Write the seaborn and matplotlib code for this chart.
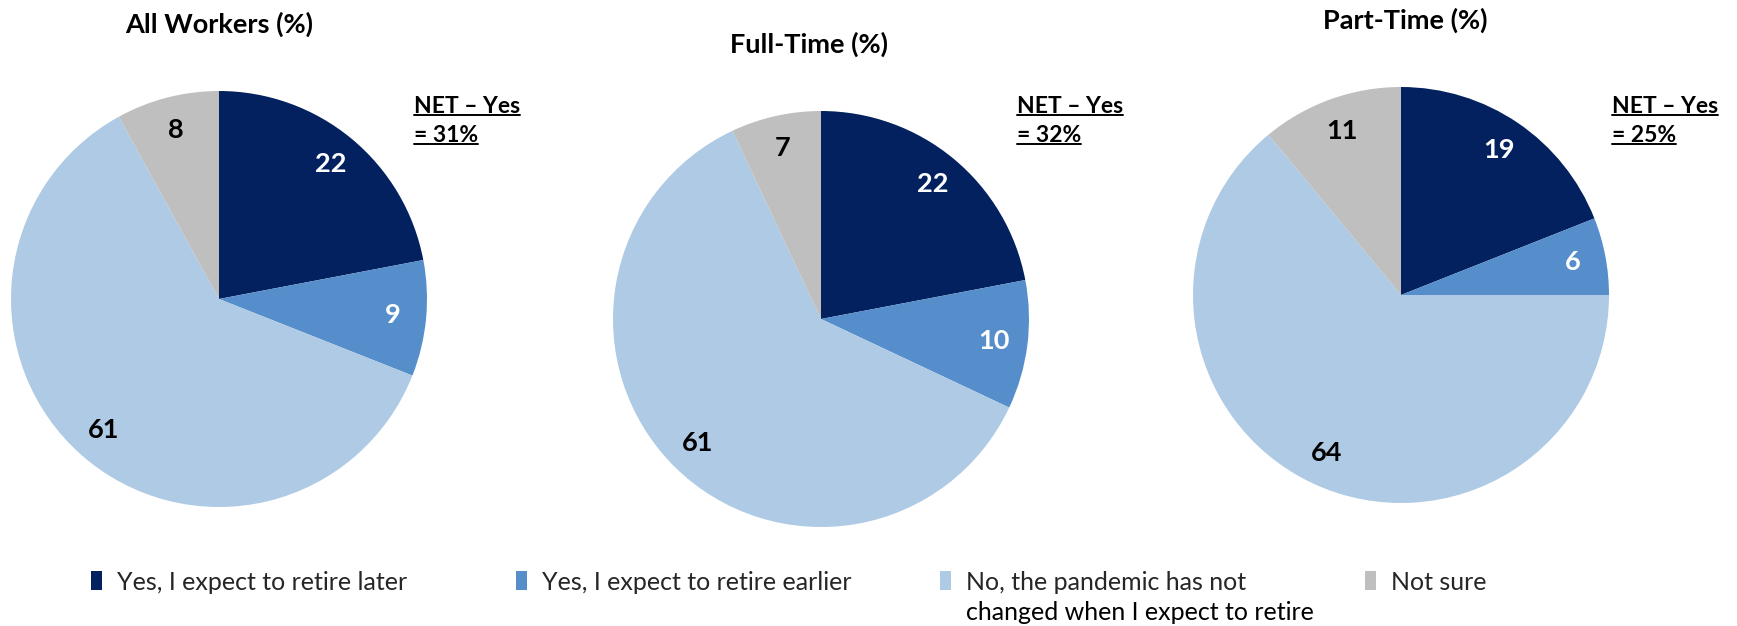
import matplotlib
matplotlib.use("Agg")
import matplotlib.pyplot as plt
import seaborn as sns
from matplotlib.patches import Patch
from matplotlib.lines import Line2D

sns.set_theme(style="white")
plt.rcParams['font.family'] = ['Lato', 'DejaVu Sans']

# Data
categories = ["Yes, I expect to retire later", "Yes, I expect to retire earlier",
              "No, the pandemic has not\nchanged when I expect to retire", "Not sure"]
groups = ["All Workers (%)", "Full-Time (%)", "Part-Time (%)"]
all_workers = [22, 9, 61, 8]
full_time = [22, 10, 61, 7]
part_time = [19, 6, 64, 11]
net_yes = [31, 32, 25]

colors = ["#03215E", "#558ECA", "#AECAE4", "#BFBFBF"]
label_colors = ["white", "white", "black", "black"]

W, H = 1737, 626
fig = plt.figure(figsize=(W / 100, H / 100), dpi=100)

# pie centres / radius in pixels (from top-left), title y, net label x
centres = [(219, 299), (821, 319), (1401, 295)]
radius = 208
title_pos = [(219, 24), (809, 44), (1405, 20)]
net_x = [414, 1017, 1612]
net_y = 96
net_size = 16.5

series = [all_workers, full_time, part_time]
for i, vals in enumerate(series):
    cx, cy = centres[i]
    ax = fig.add_axes([(cx - radius) / W, (H - cy - radius) / H, 2 * radius / W, 2 * radius / H])
    wedges, texts = ax.pie(vals, colors=colors, startangle=90, counterclock=False,
                           labels=[str(v) for v in vals], labeldistance=0.84,
                           wedgeprops=dict(linewidth=0))
    for t, c in zip(texts, label_colors):
        t.set_color(c)
        t.set_fontsize(19.5)
        t.set_fontweight("bold")
        t.set_ha("center")
        t.set_va("center")
    ax.set_xlim(-1, 1)
    ax.set_ylim(-1, 1)
    ax.set_aspect("equal")
    ax.axis("off")

    tx, ty = title_pos[i]
    fig.text(tx / W, 1 - ty / H, groups[i], ha="center", va="center",
             fontsize=19.5, fontweight="bold", color="black")

# NET labels, underlined line by line
fig.canvas.draw()
renderer = fig.canvas.get_renderer()
for i in range(len(series)):
    for j, line in enumerate(["NET \u2013 Yes", "= %d%%" % net_yes[i]]):
        t = fig.text(net_x[i] / W, 1 - (net_y + j * 29) / H, line, ha="left", va="top",
                     fontsize=net_size, fontweight="bold", color="black")
        bb = t.get_window_extent(renderer)
        y0 = bb.y0 + 2
        fig.add_artist(Line2D([bb.x0 / W, bb.x1 / W], [y0 / H, y0 / H],
                              transform=fig.transFigure, color="black", lw=1.4))

# legend, one entry per fixed slot; marker sits beside the first line
legend_x = [91, 516, 940, 1365]
legend_y = 582
for x, lab, c in zip(legend_x, categories, colors):
    lines = lab.split("\n")
    leg = fig.legend(handles=[Patch(facecolor=c, edgecolor="none")], labels=[lines[0]],
                     loc="center left", bbox_to_anchor=(x / W, 1 - legend_y / H),
                     frameon=False, fontsize=18, handlelength=0.45, handleheight=0.8,
                     handletextpad=0.6, borderpad=0, borderaxespad=0, labelspacing=0)
    if len(lines) > 1:
        fig.canvas.draw()
        tb = leg.get_texts()[0].get_window_extent(fig.canvas.get_renderer())
        fig.text(tb.x0 / W, 1 - (legend_y + 31) / H, "\n".join(lines[1:]),
                 ha="left", va="center", fontsize=18, color="black")

fig.savefig("out.png", dpi=100)
